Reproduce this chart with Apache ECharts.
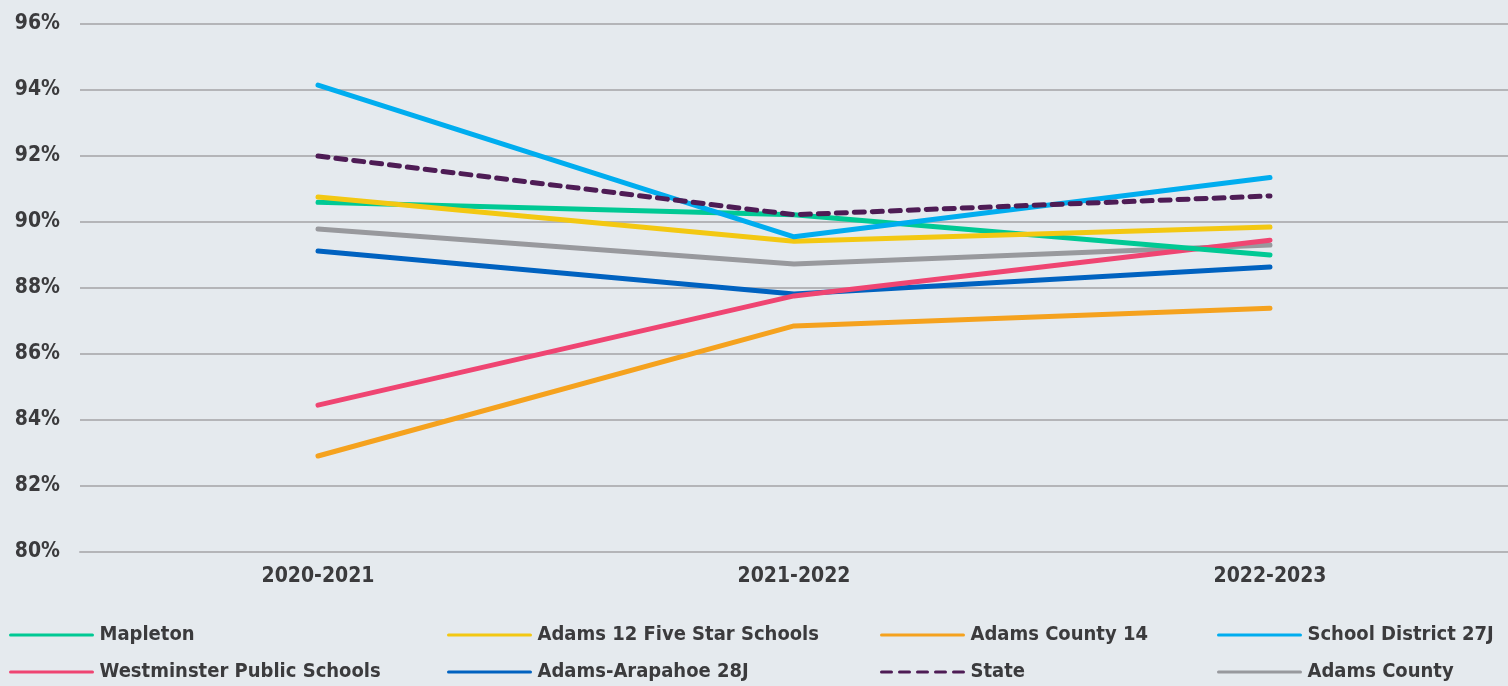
<!DOCTYPE html>
<html lang="en">
  <head>
    <meta charset="UTF-8" />
    <title>Graduation rates</title>
    <script src="https://cdn.jsdelivr.net/npm/echarts@6.0.0/dist/echarts.min.js"></script>
    <style>
      body { margin: 0; background: #e5eaee; }
    </style>
  </head>
  <body>
    <div id="main" style="width: 1508px; height: 686px"></div>
    <script type="text/javascript">
      const years = ["2020-2021", "2021-2022", "2022-2023"];
      const mapleton = [90.6, 90.22, 89.0];
      const adams12 = [90.76, 89.42, 89.85];
      const adamsCounty14 = [82.91, 86.85, 87.39];
      const district27J = [94.15, 89.55, 91.35];
      const westminster = [84.45, 87.76, 89.45];
      const arapahoe28J = [89.12, 87.82, 88.64];
      const state = [92.0, 90.22, 90.79];
      const adamsCounty = [89.79, 88.73, 89.3];

      const font = "'Liberation Sans Narrow', 'DejaVu Sans Condensed', sans-serif";
      const textColor = "#3b3b3d";

      function line(name, data, color, dashed) {
        return {
          name: name,
          type: "line",
          data: data,
          symbol: "none",
          lineStyle: { color: color, width: 5, cap: "round", type: dashed ? [10, 8] : "solid" },
          itemStyle: { color: color },
        };
      }

      function legendCol(left, names) {
        return {
          left: left,
          top: 620,
          height: 120,
          orient: "vertical",
          itemWidth: 82,
          itemHeight: 12,
          itemGap: 17,
          data: names,
          lineStyle: { width: 3 },
          itemStyle: { opacity: 0, borderWidth: 0 },
          textStyle: { fontFamily: font, fontSize: 20, fontWeight: "bold", color: textColor, padding: [0, 0, 0, 2] },
        };
      }

      let myChart = echarts.init(document.getElementById("main"));
      let options = {
        backgroundColor: "#e5eaee",
        animation: false,
        grid: { left: 80, right: 0, top: 24, bottom: 134 },
        legend: [
          legendCol(4, ["Mapleton", "Westminster Public Schools"]),
          legendCol(442, ["Adams 12 Five Star Schools", "Adams-Arapahoe 28J"]),
          legendCol(875, ["Adams County 14", "State"]),
          legendCol(1212, ["School District 27J", "Adams County"]),
        ],
        xAxis: {
          type: "category",
          data: years,
          boundaryGap: true,
          axisLine: { lineStyle: { color: "#b4b5b8", width: 2 } },
          axisTick: { show: false },
          axisLabel: { fontFamily: font, fontSize: 21, fontWeight: "bold", color: textColor, margin: 14 },
        },
        yAxis: {
          type: "value",
          min: 80,
          max: 96,
          interval: 2,
          axisLine: { show: false },
          axisTick: { show: false },
          splitLine: { lineStyle: { color: "#b4b5b8", width: 2 } },
          axisLabel: {
            formatter: "{value}%",
            fontFamily: font,
            fontSize: 21,
            fontWeight: "bold",
            color: textColor,
            margin: 20,
          },
        },
        series: [
          line("Adams County", adamsCounty, "#98999d"),
          line("Adams-Arapahoe 28J", arapahoe28J, "#0062c0"),
          line("Adams County 14", adamsCounty14, "#f5a21e"),
          line("Westminster Public Schools", westminster, "#ef4572"),
          line("Mapleton", mapleton, "#00c994"),
          line("Adams 12 Five Star Schools", adams12, "#f3c812"),
          line("School District 27J", district27J, "#00adef"),
          line("State", state, "#4e1c55", true),
        ],
      };
      myChart.setOption(options);
    </script>
  </body>
</html>
